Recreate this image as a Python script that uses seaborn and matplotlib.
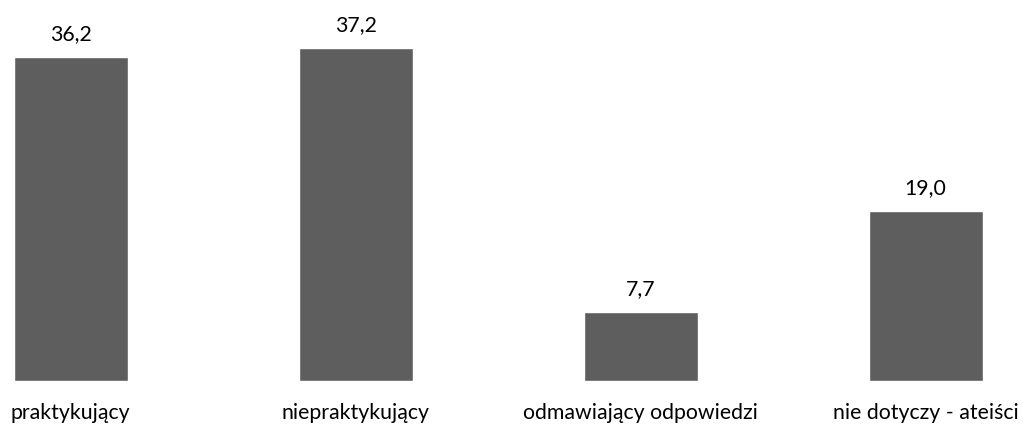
import matplotlib
matplotlib.use("Agg")
import numpy as np
import pandas as pd
import seaborn as sns
import matplotlib.pyplot as plt

categories = ["praktykujący", "niepraktykujący", "odmawiający odpowiedzi", "nie dotyczy - ateiści"]
values = [36.2, 37.2, 7.7, 19.0]

sns.set_theme(style="white")
plt.rcParams['font.family'] = ['Lato', 'DejaVu Sans']

df = pd.DataFrame({"kategoria": categories, "wartosc": values})

fig = plt.figure(figsize=(10.23, 4.25), dpi=100)
ax = fig.add_axes([0, 44 / 425, 1, 381 / 425])

sns.barplot(data=df, x="kategoria", y="wartosc", color="#5e5e5e", width=0.4,
            saturation=1, ax=ax)

# position the bars as in the reference
ax.set_xlim(-70.5 / 285, (1023 - 70.5) / 285)
ax.set_ylim(0, 381 / 8.95)

ax.bar_label(ax.containers[0], labels=[f"{v:.1f}".replace(".", ",") for v in values],
             padding=9, fontsize=15.3, color="#000000")

ax.set_xlabel("")
ax.set_ylabel("")
ax.set_yticks([])
ax.tick_params(axis="x", length=0, pad=16, labelsize=15.3, labelcolor="#000000")
sns.despine(ax=ax, left=True, bottom=True)

fig.savefig("out.png", dpi=100)
